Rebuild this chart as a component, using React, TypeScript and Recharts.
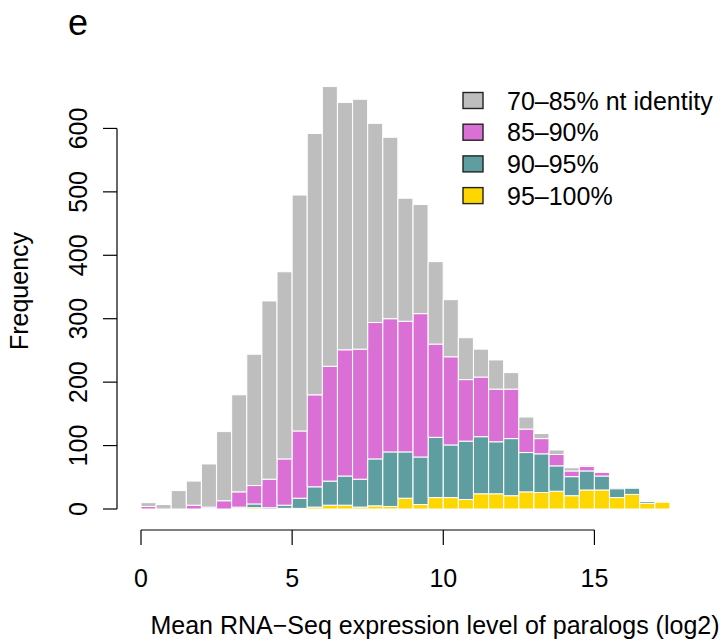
import { BarChart, Bar, XAxis, YAxis, ReferenceLine } from "recharts";

// histogram bins of width 0.5 (mid-points, log2 expression)
const binMids = [
  0.25, 0.75, 1.25, 1.75, 2.25, 2.75, 3.25, 3.75, 4.25, 4.75, 5.25, 5.75,
  6.25, 6.75, 7.25, 7.75, 8.25, 8.75, 9.25, 9.75, 10.25, 10.75, 11.25, 11.75,
  12.25, 12.75, 13.25, 13.75, 14.25, 14.75, 15.25, 15.75, 16.25, 16.75, 17.25,
];

// paralog counts per bin, split by nucleotide identity class
const id95to100 = [
  0, 0, 0, 0, 0, 0, 1, 2, 0, 1, 1, 3, 6, 6, 3, 5, 4, 17, 7, 18, 18, 15, 24, 24,
  21, 27, 26, 28, 21, 30, 30, 18, 23, 9, 11,
];
const id90to95 = [
  0, 0, 0, 0, 1, 0, 2, 6, 2, 5, 16, 32, 38, 46, 44, 74, 86, 73, 75, 95, 83, 92,
  90, 82, 90, 62, 61, 40, 30, 30, 22, 14, 10, 3, 0,
];
const id85to90 = [
  4, 0, 0, 6, 2, 13, 24, 29, 45, 73, 106, 145, 181, 199, 205, 215, 210, 206,
  226, 147, 139, 97, 94, 83, 78, 37, 24, 18, 9, 7, 6, 2, 1, 0, 0,
];
const id70to85 = [
  6, 7, 29, 38, 68, 109, 153, 207, 281, 295, 372, 412, 441, 390, 394, 314, 286,
  194, 172, 130, 90, 66, 44, 46, 26, 19, 8, 7, 5, 2, 1, 1, 1, 1, 1,
];

const xTicks = [0, 5, 10, 15];
const yTicks = [0, 100, 200, 300, 400, 500, 600];

const legendItems = [
  { label: "70\u201385% nt identity", color: "#BEBEBE" },
  { label: "85\u201390%", color: "#DA70D6" },
  { label: "90\u201395%", color: "#5F9EA0" },
  { label: "95\u2013100%", color: "#FFD700" },
];

const data = binMids.map((mid, i) => ({
  mid,
  c95: id95to100[i],
  c90: id90to95[i],
  c85: id85to90[i],
  c70: id70to85[i],
}));

const FONT = "'Liberation Sans', Arial, Helvetica, sans-serif";

function XTick({ x, y, payload }: any) {
  return (
    <g>
      <line x1={x} x2={x} y1={y + 21} y2={y + 36} stroke="#000" strokeWidth={1.2} />
      <text x={x} y={y + 78} textAnchor="middle" fontSize={25} fontFamily={FONT} fill="#000">
        {payload.value}
      </text>
    </g>
  );
}

function YTick({ x, y, payload }: any) {
  const lx = x - 54;
  return (
    <g>
      <line x1={x - 38} x2={x - 24} y1={y} y2={y} stroke="#000" strokeWidth={1.2} />
      <text
        x={lx}
        y={y}
        transform={`rotate(-90, ${lx}, ${y})`}
        textAnchor="middle"
        fontSize={25}
        fontFamily={FONT}
        fill="#000"
      >
        {payload.value}
      </text>
    </g>
  );
}

// R-style detached axis lines
const xAxisLine = (p: any) => (
  <line x1={p.x1} x2={p.x2} y1={p.y1 + 21} y2={p.y2 + 21} stroke="#000" strokeWidth={1.2} />
);
const yAxisLine = (p: any) => (
  <line x1={p.x1 - 24} x2={p.x2 - 24} y1={p.y1} y2={p.y2} stroke="#000" strokeWidth={1.2} />
);

export default function App() {
  return (
    <div style={{ position: "absolute", left: 0, top: 0, width: 723, height: 641, background: "#fff" }}>
      <BarChart
        width={723}
        height={641}
        data={data}
        margin={{ top: 65, right: 53, left: 0, bottom: 32 }}
        barCategoryGap={0}
        barGap={0}
      >
        <XAxis
          dataKey="mid"
          type="number"
          domain={[0, 17.5]}
          ticks={xTicks}
          axisLine={false}
          tickLine={false}
          tickSize={0}
          tickMargin={0}
          height={100}
          tick={<XTick />}
          interval={0}
        />
        <YAxis
          type="number"
          domain={[0, 700]}
          ticks={yTicks}
          axisLine={false}
          tickLine={false}
          tickSize={0}
          tickMargin={0}
          width={141}
          tick={<YTick />}
          interval={0}
        />
        <Bar dataKey="c95" stackId="s" fill="#FFD700" stroke="#fff" strokeWidth={1} isAnimationActive={false} />
        <Bar dataKey="c90" stackId="s" fill="#5F9EA0" stroke="#fff" strokeWidth={1} isAnimationActive={false} />
        <Bar dataKey="c85" stackId="s" fill="#DA70D6" stroke="#fff" strokeWidth={1} isAnimationActive={false} />
        <Bar dataKey="c70" stackId="s" fill="#BEBEBE" stroke="#fff" strokeWidth={1} isAnimationActive={false} />
        <ReferenceLine segment={[{ x: 0, y: 0 }, { x: 15, y: 0 }]} shape={xAxisLine} />
        <ReferenceLine segment={[{ x: 0, y: 0 }, { x: 0, y: 600 }]} shape={yAxisLine} />
      </BarChart>
      <svg
        width={723}
        height={641}
        style={{ position: "absolute", left: 0, top: 0, pointerEvents: "none" }}
        fontFamily={FONT}
      >
        <text x={68} y={35} fontSize={36} fill="#000">e</text>
        <text x={28} y={291} transform="rotate(-90, 28, 291)" textAnchor="middle" fontSize={25} fill="#000">
          Frequency
        </text>
        <text x={435} y={634} textAnchor="middle" fontSize={25} fill="#000">
          Mean RNA{"\u2212"}Seq expression level of paralogs (log2)
        </text>
        {legendItems.map((item, i) => {
          const cy = 100.5 + i * 31.7;
          return (
            <g key={item.label}>
              <rect x={463} y={cy - 8} width={20} height={16} fill={item.color} stroke="#222" strokeWidth={1.4} />
              <text x={507} y={cy + 9} fontSize={25} fill="#000">{item.label}</text>
            </g>
          );
        })}
      </svg>
    </div>
  );
}
